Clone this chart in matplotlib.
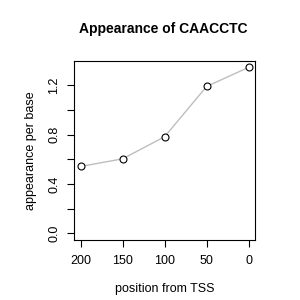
import matplotlib
matplotlib.use("Agg")
import matplotlib.pyplot as plt
import numpy as np

positions = [200, 150, 100, 50, 0]
values = [0.542, 0.604, 0.783, 1.19, 1.345]
yticks = [0.0, 0.2, 0.4, 0.6, 0.8, 1.0, 1.2]
ylabels = ["0.0", "", "0.4", "", "0.8", "", "1.2"]
xticks = [200, 150, 100, 50, 0]

plt.rcParams['font.family'] = ['Liberation Sans', 'DejaVu Sans']

fig = plt.figure(figsize=(3, 3), dpi=100)
ax = fig.add_axes([0.2467, 0.2, 0.6043, 0.5977])

ax.plot(positions, values, color='#bebebe', lw=1, zorder=1)
ax.plot(positions, values, 'o', ms=5, mfc='white', mec='black', mew=0.8, zorder=2)

ymin, ymax = 0.0, max(values)
pad = 0.04 * (ymax - ymin)
ax.set_ylim(ymin - pad, ymax + pad)
xpad = 0.04 * 200
ax.set_xlim(200 + xpad, 0 - xpad)

ax.set_yticks(yticks)
ax.set_yticklabels(ylabels, rotation=90, va='center')
ax.set_xticks(xticks)
ax.set_xticklabels([str(x) for x in xticks])
ax.tick_params(direction='out', length=5, width=0.8, labelsize=9, colors='black')
ax.tick_params(axis='x', pad=6)
ax.tick_params(axis='y', pad=5)
for s in ax.spines.values():
    s.set_linewidth(0.8)

ax.set_xlabel("position from TSS", fontsize=9, labelpad=11)
ax.set_ylabel("appearance per base", fontsize=9, labelpad=8)
fig.suptitle("Appearance of CAACCTC", fontsize=10, fontweight='bold', x=0.545, y=0.925)

fig.savefig("out.png", dpi=100)
